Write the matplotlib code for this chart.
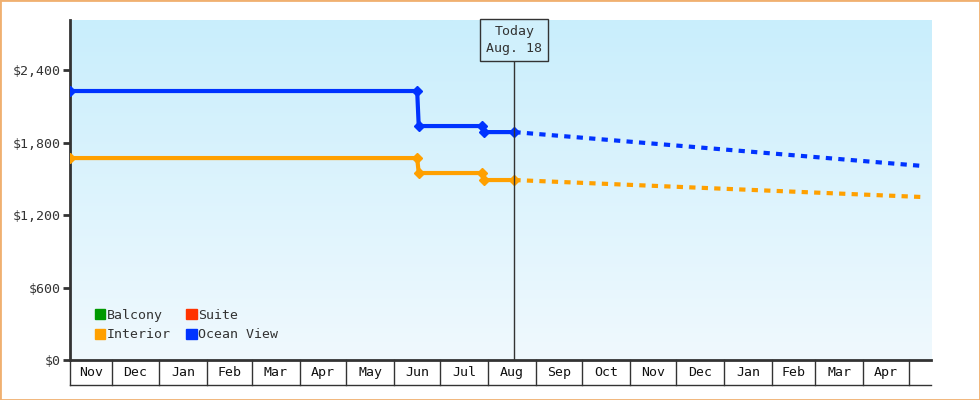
import matplotlib
matplotlib.use("Agg")
import matplotlib.pyplot as plt
import matplotlib.dates as mdates
import matplotlib.transforms as mtrans
import numpy as np
import pandas as pd

plt.rcParams['font.family'] = ['DejaVu Sans Mono']

ocean_dates = ["2023-11-04", "2024-06-16", "2024-06-17", "2024-07-28", "2024-07-29", "2024-08-18"]
ocean_vals = [2227, 2227, 1937, 1937, 1887, 1887]
ocean_proj_dates = ["2024-08-18", "2025-05-10"]
ocean_proj_vals = [1887, 1606]

interior_dates = ["2023-11-04", "2024-06-16", "2024-06-17", "2024-07-28", "2024-07-29", "2024-08-18"]
interior_vals = [1672, 1672, 1548, 1548, 1490, 1490]
interior_proj_dates = ["2024-08-18", "2025-05-10"]
interior_proj_vals = [1490, 1349]

month_starts = ["2023-11-04", "2023-12-01", "2024-01-01", "2024-02-01", "2024-03-01", "2024-04-01",
                "2024-05-01", "2024-06-01", "2024-07-01", "2024-08-01", "2024-09-01", "2024-10-01",
                "2024-11-01", "2024-12-01", "2025-01-01", "2025-02-01", "2025-03-01", "2025-04-01",
                "2025-05-01"]
month_labels = ["Nov", "Dec", "Jan", "Feb", "Mar", "Apr", "May", "Jun", "Jul", "Aug", "Sep", "Oct",
                "Nov", "Dec", "Jan", "Feb", "Mar", "Apr"]
yticks = [0, 600, 1200, 1800, 2400]
today = "2024-08-18"

d = lambda s: mdates.date2num(pd.to_datetime(s))

fig = plt.figure(figsize=(9.8, 4), dpi=100)
fig.patches.append(plt.Rectangle((0, 0), 1, 1, transform=fig.transFigure, fill=False,
                                 edgecolor='#f0b070', linewidth=2))
ax = fig.add_axes([70/980, 40/400, 861/980, 340/400])
x0, x1 = d("2023-11-04"), d("2025-05-15")
ax.set_xlim(x0, x1)
ax.set_ylim(0, 2815)

grad = np.linspace(0, 1, 256).reshape(-1, 1)
from matplotlib.colors import LinearSegmentedColormap
cm = LinearSegmentedColormap.from_list('g', ['#f0f9fe', '#c9eefc'])
ax.imshow(grad, aspect='auto', cmap=cm, extent=[0, 1, 1, 0], transform=ax.transAxes, zorder=0)

ax.plot([d(s) for s in ocean_dates], ocean_vals, color='#0033ff', lw=3, marker='D', ms=5, zorder=3)
ax.plot([d(s) for s in ocean_proj_dates], ocean_proj_vals, color='#0033ff', lw=3, ls=(0, (1.5, 1.5)), zorder=3)
ax.plot([d(s) for s in interior_dates], interior_vals, color='#ffa000', lw=3, marker='D', ms=5, zorder=3)
ax.plot([d(s) for s in interior_proj_dates], interior_proj_vals, color='#ffa000', lw=3, ls=(0, (1.5, 1.5)), zorder=3)

ax.axvline(d(today), ymax=300/340, color='#333333', lw=1, zorder=4)
ax.text(d(today), 2815 * 320/340, "Today\nAug. 18", ha='center', va='center', fontsize=9.5, color='#333333',
        linespacing=1.4, bbox=dict(boxstyle='square,pad=0.45', fc='#d0f0fc', ec='#333333', lw=1), zorder=5)

for sp in ['top', 'right']:
    ax.spines[sp].set_visible(False)
ax.spines['left'].set_linewidth(2)
ax.spines['bottom'].set_linewidth(2)
ax.spines['left'].set_color('#333333')
ax.spines['bottom'].set_color('#333333')
ax.set_yticks(yticks)
ax.set_yticklabels(["$0", "$600", "$1,200", "$1,800", "$2,400"], fontsize=9.5, color='#333333')
ax.tick_params(axis='y', length=5, width=2, color='#333333', pad=2)
ax.set_xticks([])

tr = mtrans.blended_transform_factory(ax.transData, ax.transAxes)
h = 25/340
for i, s in enumerate(month_starts):
    ax.plot([d(s), d(s)], [0, -h], color='#333333', lw=1, transform=tr, clip_on=False)
    if i < len(month_labels):
        c = (d(s) + d(month_starts[i+1])) / 2
        ax.text(c, -h/2, month_labels[i], ha='center', va='center', fontsize=9.5, color='#111111', transform=tr)
ax.plot([x0, x1], [-h, -h], color='#333333', lw=1, transform=tr, clip_on=False)

from matplotlib.patches import Patch
handles = [Patch(color='#009900', label='Balcony'), Patch(color='#ffa000', label='Interior'),
           Patch(color='#ff3300', label='Suite'), Patch(color='#0033ff', label='Ocean View')]
ax.legend(handles=handles, ncol=2, loc='lower left', bbox_to_anchor=(0.015, 0.02), frameon=False,
          fontsize=9.5, handlelength=0.8, handleheight=0.8, handletextpad=0.1, columnspacing=1.2,
          labelspacing=0.5, labelcolor='#333333')

fig.savefig("out.png", dpi=100)
